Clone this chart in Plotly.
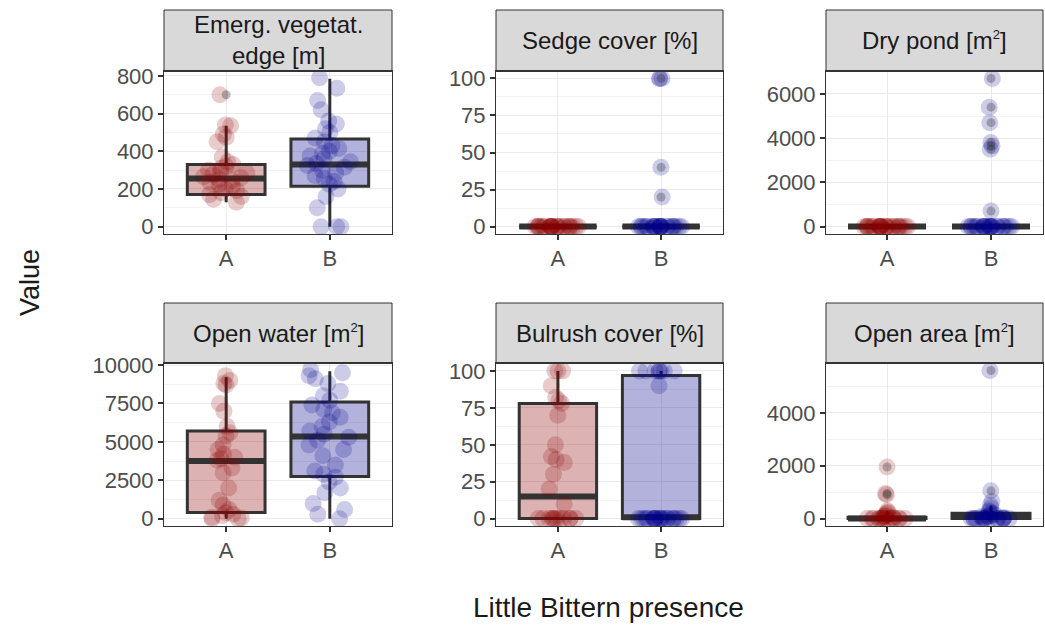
import plotly.graph_objects as go

W, H = 1045, 630

categories = ["A", "B"]

SUP2 = "<sup><span style='font-size:13px'>2</span></sup>"
panel_titles = [
    "Emerg. vegetat.<br>edge [m]",
    "Sedge cover [%]",
    "Dry pond [m" + SUP2 + "]",
    "Open water [m" + SUP2 + "]",
    "Bulrush cover [%]",
    "Open area [m" + SUP2 + "]",
]

emerg_A = [700, 540, 535, 490, 475, 450, 370, 345, 330, 320, 310, 300, 290, 285, 275,
           265, 260, 250, 245, 235, 225, 215, 200, 190, 180, 170, 160, 145, 130]
emerg_B = [790, 735, 670, 620, 560, 545, 520, 500, 470, 450, 430, 415, 400, 390, 375,
           360, 345, 335, 325, 315, 300, 285, 270, 255, 240, 225, 200, 160, 100, 0, 0, 0]
sedge_A = [0] * 26
sedge_B = [100, 100, 100, 40, 20] + [0] * 26
dry_A = [0] * 26
dry_B = [6700, 5400, 4700, 3800, 3650, 3500, 700] + [0] * 24
water_A = [9300, 9000, 8800, 8700, 7500, 7000, 6000, 5600, 5400, 4800, 4500, 4200, 4000,
           3900, 3800, 3300, 3000, 2000, 1200, 900, 600, 400, 300, 200, 100, 50, 0, 0]
water_B = [9700, 9500, 9300, 9100, 8800, 8300, 8000, 7700, 7400, 7100, 6900, 6600, 6300,
           6000, 5700, 5500, 5300, 5100, 4800, 4500, 4100, 3500, 3100, 2900, 2700, 2400,
           2000, 1700, 1000, 600, 300, 0]
bulrush_A = [100, 100, 100, 90, 82, 80, 78, 70, 50, 42, 40, 38, 30, 20, 10] + [0] * 12
bulrush_B = [100] * 8 + [90] + [0] * 22
area_A = [1950, 950, 900, 300, 250, 200, 150, 100, 80, 50, 30] + [0] * 14
area_B = [5600, 1050, 650, 500, 400, 300, 250, 200, 150, 120, 100, 80, 60, 40, 20] + [0] * 14

# boxplot outliers (grey dots)
emerg_out_A, emerg_out_B = [700], []
sedge_out_A, sedge_out_B = [], [100, 40, 20]
dry_out_A, dry_out_B = [], [6700, 5400, 4700, 3800, 3650, 3500, 700]
water_out_A, water_out_B = [], []
bulrush_out_A, bulrush_out_B = [], []
area_out_A, area_out_B = [1950, 950, 900], [5600, 1050]

# box statistics per panel: [A, B] -> (lower whisker, q1, median, q3, upper whisker)
emerg_box = [(130, 170, 255, 330, 535), (0, 215, 330, 465, 785)]
sedge_box = [(0, 0, 0, 0, 0), (0, 0, 0, 0, 0)]
dry_box = [(0, 0, 0, 0, 0), (0, 0, 0, 0, 0)]
water_box = [(0, 400, 3750, 5700, 9200), (0, 2750, 5350, 7600, 9600)]
bulrush_box = [(0, 0, 15, 78, 100), (0, 0, 1, 97, 100)]
area_box = [(0, 0, 0, 50, 300), (0, 0, 60, 200, 500)]

# y ranges and tick steps
y_ranges = [(-39, 826), (-5, 105), (-335, 7036), (-470, 10130), (-5, 105.4), (-280, 5885)]
y_dticks = [200, 25, 2000, 2500, 25, 2000]

panels = [
    (emerg_A, emerg_B, emerg_out_A, emerg_out_B, emerg_box),
    (sedge_A, sedge_B, sedge_out_A, sedge_out_B, sedge_box),
    (dry_A, dry_B, dry_out_A, dry_out_B, dry_box),
    (water_A, water_B, water_out_A, water_out_B, water_box),
    (bulrush_A, bulrush_B, bulrush_out_A, bulrush_out_B, bulrush_box),
    (area_A, area_B, area_out_A, area_out_B, area_box),
]

# ---- layout geometry (pixels) ----
col_px = [(164, 392), (496, 723), (826, 1043)]
x_ranges = [(-0.6, 1.6), (-0.6, 1.6), (-0.587, 1.5)]
row_px = [((10, 71), (71, 234)), ((303, 363), (363, 526))]

point_colors = ["rgba(139,0,0,0.2)", "rgba(0,0,139,0.2)"]
fill_colors = ["rgba(139,0,0,0.3)", "rgba(0,0,139,0.3)"]
dark = "#333333"
FONT = "Liberation Sans, Arial"

fig = go.Figure()
shapes = []
annotations = []

for i, (ptsA, ptsB, outA, outB, box) in enumerate(panels):
    r, c = divmod(i, 3)
    n = "" if i == 0 else str(i + 1)
    xa, ya = "x" + n, "y" + n
    pts = [ptsA, ptsB]
    outs = [outA, outB]
    for g, cat in enumerate(categories):
        lo, q1, med, q3, hi = box[g]
        # box with whiskers
        fig.add_trace(go.Box(
            x=[cat], q1=[q1], median=[med], q3=[q3], lowerfence=[lo], upperfence=[hi],
            width=0.75, whiskerwidth=0, fillcolor=fill_colors[g],
            line=dict(color=dark, width=3),
            boxpoints=False, xaxis=xa, yaxis=ya, showlegend=False, hoverinfo="skip"))
        # thick median bar
        fig.add_trace(go.Box(
            x=[cat], q1=[med], median=[med], q3=[med], lowerfence=[med], upperfence=[med],
            width=0.75, whiskerwidth=0, fillcolor="rgba(0,0,0,0)",
            line=dict(color=dark, width=6),
            boxpoints=False, xaxis=xa, yaxis=ya, showlegend=False, hoverinfo="skip"))
        # outliers
        if outs[g]:
            fig.add_trace(go.Scatter(
                x=[cat] * len(outs[g]), y=outs[g], mode="markers",
                marker=dict(size=9, color="rgba(40,40,40,0.3)", line=dict(width=0)),
                xaxis=xa, yaxis=ya, showlegend=False, hoverinfo="skip"))
        # jittered points
        fig.add_trace(go.Box(
            x=[cat] * len(pts[g]), y=pts[g], width=0.75, boxpoints="all", jitter=0.6,
            pointpos=0, fillcolor="rgba(0,0,0,0)", whiskerwidth=0,
            line=dict(color="rgba(0,0,0,0)", width=0),
            marker=dict(size=17, color=point_colors[g], line=dict(width=0)),
            xaxis=xa, yaxis=ya, showlegend=False, hoverinfo="skip"))

    (s0, s1), (p0, p1) = row_px[r]
    cx0, cx1 = col_px[c]
    xdom = [cx0 / W, cx1 / W]
    ydom = [1 - p1 / H, 1 - p0 / H]
    fig.layout["xaxis" + n] = dict(
        domain=xdom, anchor=ya, type="category", categoryorder="array",
        categoryarray=categories, range=list(x_ranges[c]),
        showgrid=True, gridcolor="#ebebeb", gridwidth=1,
        showline=True, mirror=True, linecolor=dark, linewidth=1,
        ticks="outside", ticklen=5, tickcolor=dark, tickwidth=1.5,
        tickfont=dict(size=22, color="#4d4d4d", family=FONT),
        zeroline=False, fixedrange=True, automargin=False)
    dt = y_dticks[i]
    fig.layout["yaxis" + n] = dict(
        domain=ydom, anchor=xa, range=list(y_ranges[i]),
        tickmode="linear", tick0=0, dtick=dt, tickformat="d",
        showgrid=True, gridcolor="#ebebeb", gridwidth=1,
        minor=dict(tickmode="linear", tick0=0, dtick=dt / 2, showgrid=True,
                   gridcolor="#f3f3f3", gridwidth=0.7, ticks=""),
        showline=True, mirror=True, linecolor=dark, linewidth=1,
        ticks="outside", ticklen=5, tickcolor=dark, tickwidth=1.5,
        tickfont=dict(size=22, color="#4d4d4d", family=FONT),
        zeroline=False, fixedrange=True, automargin=False)

    # facet strip
    shapes.append(dict(type="rect", xref="paper", yref="paper",
                       x0=cx0 / W, x1=cx1 / W, y0=1 - s1 / H, y1=1 - s0 / H,
                       fillcolor="#d9d9d9", line=dict(color=dark, width=1), layer="above"))
    shapes.append(dict(type="line", xref="paper", yref="paper",
                       x0=cx0 / W, x1=cx1 / W, y0=1 - s1 / H, y1=1 - s1 / H,
                       line=dict(color=dark, width=2), layer="above"))
    annotations.append(dict(text=panel_titles[i], xref="paper", yref="paper",
                            x=(cx0 + cx1) / 2 / W, y=1 - (s0 + s1) / 2 / H,
                            xanchor="center", yanchor="middle", showarrow=False,
                            font=dict(size=24, color="#1a1a1a", family=FONT)))

annotations.append(dict(text="Value", xref="paper", yref="paper", x=30 / W, y=1 - 283 / H,
                        textangle=-90, showarrow=False, xanchor="center", yanchor="middle",
                        font=dict(size=27, color="#1a1a1a", family=FONT)))
annotations.append(dict(text="Little Bittern presence", xref="paper", yref="paper",
                        x=608 / W, y=1 - 607 / H, showarrow=False,
                        xanchor="center", yanchor="middle",
                        font=dict(size=28, color="#1a1a1a", family=FONT)))

fig.update_layout(
    width=W, height=H, margin=dict(l=0, r=0, t=0, b=0, pad=0, autoexpand=False),
    paper_bgcolor="white", plot_bgcolor="white",
    boxmode="overlay", showlegend=False,
    shapes=shapes, annotations=annotations,
)

fig.write_html("out.html")
